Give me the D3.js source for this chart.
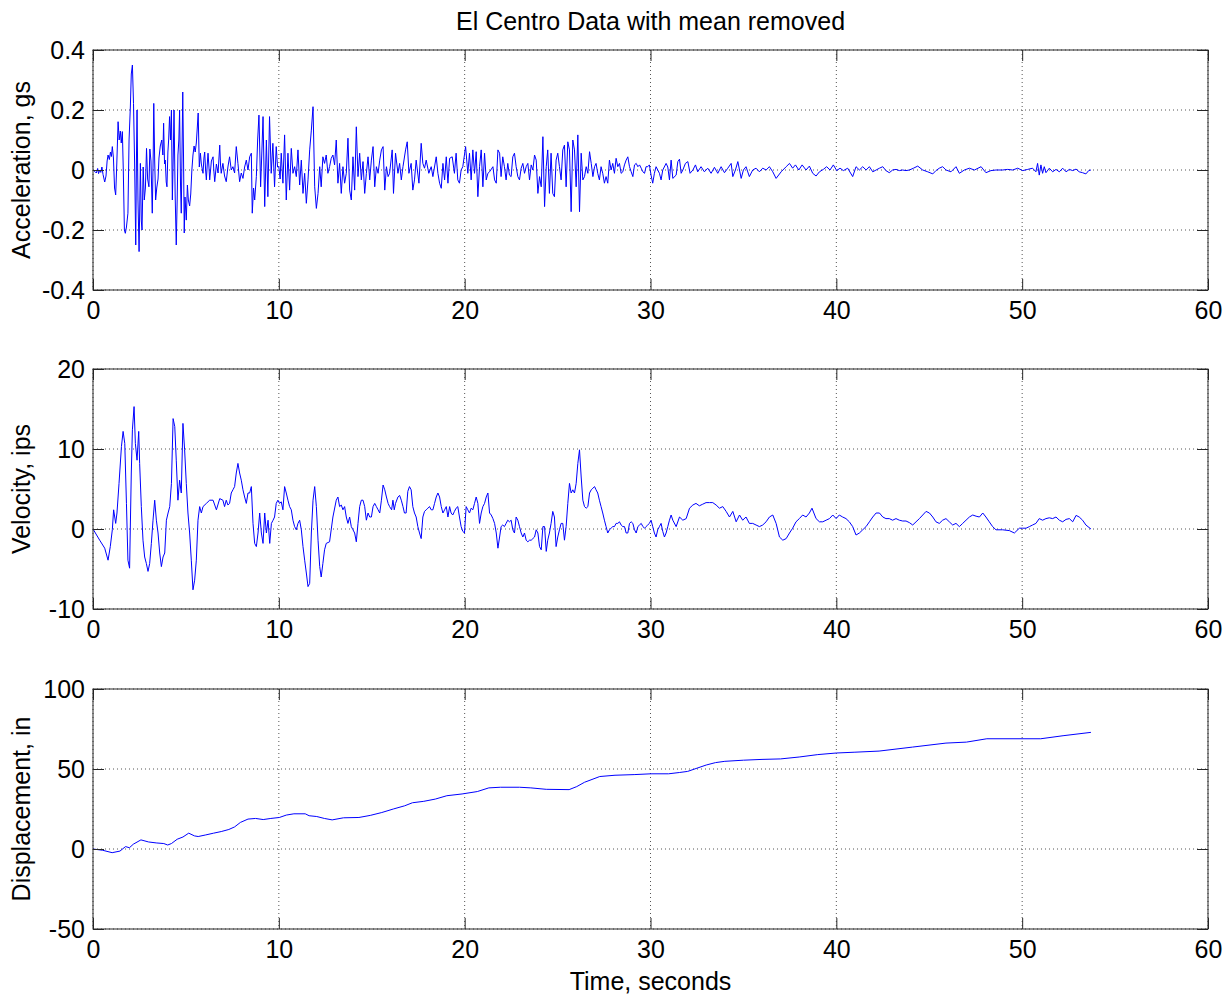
<!DOCTYPE html>
<html>
<head>
<meta charset="utf-8">
<script src="https://cdn.jsdelivr.net/npm/d3@7"></script>
<style>
  body { margin: 0; background: #fff; }
  text { font-family: "Liberation Sans", Arial, sans-serif; }
</style>
</head>
<body>
<svg id="chart" width="1229" height="996"></svg>
<script>
// ground acceleration, gs  [time s, value]
const accel = [
  [0.00,0.000],[0.10,-0.005],[0.18,-0.010],[0.25,0.005],[0.30,-0.012],[0.36,0.000],[0.42,-0.008],[0.48,0.010],[0.54,-0.015],[0.63,-0.040],
  [0.70,-0.020],[0.76,0.030],[0.81,0.050],[0.88,0.035],[0.94,0.060],[0.99,0.045],[1.04,0.078],[1.10,0.040],[1.16,-0.060],[1.22,-0.083],
  [1.28,0.020],[1.35,0.161],[1.41,0.100],[1.47,0.130],[1.52,0.090],[1.58,0.128],[1.63,0.000],[1.69,-0.200],[1.74,-0.211],[1.80,-0.190],
  [1.88,-0.144],[1.94,0.100],[2.01,0.210],[2.06,0.320],[2.12,0.350],[2.18,0.222],[2.24,0.020],[2.30,-0.250],[2.34,0.050],[2.37,0.200],
  [2.42,-0.100],[2.48,-0.272],[2.55,0.022],[2.60,-0.170],[2.64,-0.200],[2.70,0.010],[2.76,-0.100],[2.82,-0.060],[2.88,0.072],[2.94,-0.030],
  [3.01,-0.056],[3.06,0.070],[3.12,0.030],[3.19,-0.144],[3.24,0.050],[3.27,0.222],[3.32,0.030],[3.37,-0.100],[3.43,-0.060],[3.50,-0.030],
  [3.55,0.040],[3.62,0.080],[3.70,0.100],[3.76,0.050],[3.80,0.156],[3.85,0.020],[3.89,0.033],[3.94,-0.040],[3.98,-0.056],[4.03,0.060],
  [4.07,0.100],[4.12,0.178],[4.17,0.100],[4.22,0.200],[4.27,-0.100],[4.32,0.050],[4.36,0.200],[4.42,-0.080],[4.48,-0.250],[4.53,-0.100],
  [4.57,0.050],[4.62,0.100],[4.66,0.200],[4.71,-0.050],[4.75,-0.144],[4.83,0.260],[4.87,0.050],[4.91,-0.210],[4.95,-0.090],[5.02,-0.167],
  [5.08,-0.050],[5.13,-0.100],[5.20,-0.120],[5.26,-0.080],[5.32,0.000],[5.38,0.050],[5.44,0.080],[5.50,0.060],[5.56,0.090],[5.62,0.150],
  [5.66,0.190],[5.72,0.010],[5.78,0.056],[5.83,0.020],[5.92,-0.011],[5.97,0.040],[6.01,0.060],[6.06,0.000],[6.10,-0.033],[6.15,0.020],
  [6.19,0.056],[6.24,0.010],[6.28,-0.033],[6.37,0.030],[6.46,0.044],[6.50,0.000],[6.55,-0.039],[6.64,0.020],[6.73,-0.010],[6.82,0.083],
  [6.86,0.020],[6.90,-0.011],[6.99,0.022],[7.08,-0.020],[7.17,-0.039],[7.26,0.010],[7.35,0.044],[7.44,0.000],[7.53,0.011],[7.62,-0.010],
  [7.71,0.078],[7.80,0.022],[7.89,-0.039],[7.98,-0.010],[8.07,-0.028],[8.16,0.010],[8.25,0.033],[8.34,0.000],[8.43,0.044],[8.52,0.056],
  [8.57,-0.144],[8.64,-0.060],[8.70,-0.100],[8.79,-0.022],[8.86,0.100],[8.93,0.183],[9.02,-0.056],[9.08,0.050],[9.15,0.178],[9.24,-0.122],
  [9.33,0.100],[9.41,-0.089],[9.50,0.178],[9.59,-0.011],[9.68,0.089],[9.77,-0.056],[9.86,0.078],[9.93,0.010],[10.00,0.011],[10.07,-0.030],
  [10.13,0.056],[10.22,-0.044],[10.31,0.117],[10.40,-0.100],[10.49,0.056],[10.58,-0.067],[10.67,0.072],[10.76,-0.011],[10.85,0.011],[10.94,-0.022],
  [11.03,0.067],[11.12,-0.050],[11.21,0.033],[11.30,-0.078],[11.39,-0.011],[11.48,-0.111],[11.57,-0.033],[11.66,0.067],[11.75,0.133],[11.84,0.211],
  [11.93,-0.056],[12.02,-0.128],[12.11,-0.078],[12.20,0.011],[12.28,-0.056],[12.37,0.044],[12.46,0.022],[12.55,0.050],[12.64,-0.011],[12.73,0.011],
  [12.82,0.039],[12.91,0.050],[13.00,0.017],[13.09,0.100],[13.18,-0.044],[13.27,0.022],[13.36,-0.078],[13.45,0.011],[13.54,-0.044],[13.63,-0.011],
  [13.72,0.106],[13.81,-0.067],[13.90,-0.100],[13.99,0.044],[14.08,-0.067],[14.17,0.144],[14.26,-0.022],[14.35,0.056],[14.44,-0.033],[14.53,0.028],
  [14.62,-0.078],[14.71,-0.011],[14.80,0.044],[14.89,-0.033],[14.98,0.033],[15.07,0.078],[15.16,-0.056],[15.25,0.011],[15.34,-0.011],[15.43,0.033],
  [15.52,0.067],[15.61,0.078],[15.70,-0.067],[15.79,0.011],[15.88,-0.022],[15.96,-0.011],[16.10,0.067],[16.17,-0.078],[16.28,0.056],[16.41,-0.011],
  [16.50,0.022],[16.59,-0.033],[16.68,0.011],[16.82,0.067],[16.91,0.094],[17.00,-0.011],[17.12,0.022],[17.21,-0.067],[17.30,-0.033],[17.39,0.033],
  [17.54,-0.044],[17.66,0.089],[17.75,0.022],[17.84,0.006],[17.93,0.033],[18.07,-0.011],[18.20,0.011],[18.29,-0.022],[18.47,0.044],[18.56,-0.011],
  [18.65,-0.044],[18.74,-0.061],[18.83,0.022],[18.92,-0.033],[19.01,0.044],[19.10,-0.044],[19.19,0.039],[19.33,0.044],[19.45,-0.011],[19.54,0.056],
  [19.63,-0.033],[19.72,-0.044],[19.81,0.000],[19.90,0.011],[20.05,0.078],[20.17,-0.011],[20.26,0.056],[20.35,-0.033],[20.44,0.067],[20.53,-0.011],
  [20.62,0.061],[20.71,-0.089],[20.80,0.011],[20.89,0.067],[20.98,-0.056],[21.07,0.056],[21.16,-0.033],[21.25,-0.011],[21.34,-0.006],[21.52,0.011],
  [21.61,-0.033],[21.70,-0.044],[21.79,0.067],[21.88,0.056],[21.96,-0.022],[22.05,0.044],[22.14,0.011],[22.23,-0.033],[22.32,0.022],[22.41,-0.017],
  [22.50,-0.022],[22.59,0.044],[22.68,0.056],[22.77,0.011],[22.86,-0.022],[22.95,-0.033],[23.04,0.006],[23.13,0.022],[23.22,-0.011],[23.31,0.011],
  [23.40,0.022],[23.49,-0.033],[23.58,0.017],[23.67,0.000],[23.76,0.050],[23.85,0.033],[23.94,-0.078],[24.03,-0.022],[24.12,-0.056],[24.21,0.111],
  [24.30,-0.122],[24.39,0.011],[24.47,0.067],[24.56,-0.078],[24.65,0.056],[24.74,-0.078],[24.83,-0.089],[24.92,0.033],[25.01,0.056],[25.10,0.011],
  [25.19,-0.033],[25.28,0.067],[25.37,0.083],[25.46,-0.056],[25.55,0.094],[25.64,0.067],[25.73,-0.139],[25.82,0.100],[25.91,0.067],[26.00,-0.056],
  [26.09,0.117],[26.18,-0.139],[26.27,0.056],[26.36,-0.033],[26.45,-0.022],[26.54,0.011],[26.63,-0.011],[26.72,0.061],[26.81,0.022],[26.90,-0.022],
  [26.99,0.011],[27.07,0.022],[27.16,-0.011],[27.25,-0.033],[27.34,0.011],[27.43,-0.011],[27.52,-0.044],[27.61,-0.022],[27.70,-0.044],[27.79,0.033],
  [27.88,0.000],[27.97,0.022],[28.06,-0.011],[28.15,0.039],[28.24,0.011],[28.33,0.022],[28.42,-0.011],[28.51,-0.006],[28.60,0.017],[28.69,0.033],
  [28.78,0.044],[28.87,0.011],[28.96,-0.006],[29.05,-0.022],[29.14,0.017],[29.23,0.022],[29.32,0.011],[29.41,0.017],[29.50,0.006],[29.59,-0.006],
  [29.68,-0.011],[29.76,0.011],[29.85,0.011],[29.94,0.017],[30.03,-0.017],[30.12,-0.044],[30.21,-0.011],[30.30,0.011],[30.48,-0.011],[30.57,-0.033],
  [30.66,0.000],[30.84,0.022],[30.93,0.010],[31.02,-0.033],[31.11,0.033],[31.20,-0.028],[31.38,-0.017],[31.47,0.028],[31.56,0.036],[31.65,-0.011],
  [31.74,0.000],[31.88,0.022],[32.01,0.028],[32.13,-0.011],[32.28,0.000],[32.42,0.017],[32.54,-0.006],[32.72,0.011],[32.90,-0.006],[33.08,0.006],
  [33.26,-0.011],[33.44,0.009],[33.62,-0.011],[33.80,0.011],[33.98,-0.009],[34.16,0.006],[34.34,0.022],[34.43,-0.022],[34.57,0.000],[34.70,0.028],
  [34.88,-0.028],[35.00,0.000],[35.14,0.011],[35.32,-0.022],[35.50,0.000],[35.68,0.006],[35.86,-0.006],[36.04,0.006],[36.22,0.000],[36.40,0.011],
  [36.58,-0.006],[36.76,-0.028],[37.03,-0.006],[37.30,0.011],[37.48,0.022],[37.65,0.006],[37.80,0.017],[37.98,0.000],[38.16,0.017],[38.37,0.000],
  [38.55,0.013],[38.73,-0.011],[38.91,-0.020],[39.09,-0.006],[39.30,0.002],[39.48,0.011],[39.66,0.000],[39.84,0.017],[40.02,-0.002],[40.20,0.006],
  [40.38,-0.002],[40.61,0.006],[40.88,-0.022],[41.06,0.011],[41.24,0.000],[41.42,0.011],[41.60,0.000],[41.78,0.011],[41.96,-0.006],[42.14,0.000],
  [42.32,0.006],[42.50,0.011],[42.67,-0.002],[42.85,-0.009],[43.03,0.000],[43.21,0.002],[43.39,-0.002],[43.57,0.000],[43.75,-0.002],[43.93,0.000],
  [44.15,0.006],[44.38,0.013],[44.65,0.000],[44.92,-0.006],[45.19,-0.013],[45.36,-0.002],[45.54,0.006],[45.72,0.011],[45.90,0.000],[46.17,-0.006],
  [46.44,0.011],[46.62,-0.011],[46.89,0.000],[47.16,0.006],[47.43,0.000],[47.79,0.011],[48.05,-0.009],[48.32,-0.002],[48.59,0.000],[48.95,0.000],
  [49.22,0.002],[49.49,0.000],[49.76,0.006],[50.03,-0.002],[50.30,0.002],[50.56,0.006],[50.74,-0.006],[50.83,0.022],[50.92,-0.017],[51.01,0.017],
  [51.10,-0.011],[51.19,0.011],[51.28,-0.009],[51.46,0.006],[51.64,-0.006],[51.82,0.002],[52.00,-0.006],[52.18,0.006],[52.36,-0.006],[52.54,0.002],
  [52.72,-0.002],[52.90,0.003],[53.07,-0.006],[53.25,-0.009],[53.43,-0.013],[53.58,-0.002],[53.70,0.000]
];

// ground velocity, ips  [time s, value]
const velocity = [
  [0.00,0.0],[0.36,-1.4],[0.63,-2.4],[0.81,-3.9],[0.93,-2.2],[1.04,-0.1],[1.11,2.4],[1.22,0.7],[1.29,2.0],[1.40,5.7],
  [1.53,10.3],[1.62,12.2],[1.71,10.7],[1.80,3.2],[1.88,-3.9],[1.97,-4.9],[2.06,7.0],[2.12,12.4],[2.21,15.3],[2.28,10.7],
  [2.37,8.6],[2.46,12.2],[2.51,8.2],[2.60,2.8],[2.69,-1.4],[2.78,-3.5],[2.87,-4.3],[2.96,-5.3],[3.05,-4.3],[3.14,-1.8],
  [3.23,1.1],[3.32,3.6],[3.41,1.1],[3.50,-0.5],[3.59,-3.0],[3.68,-4.7],[3.77,-3.5],[3.86,-3.0],[3.95,1.1],[4.04,2.0],
  [4.13,2.8],[4.22,5.7],[4.31,13.8],[4.40,12.8],[4.48,8.6],[4.57,3.6],[4.66,6.1],[4.75,4.5],[4.84,13.2],[4.93,9.9],
  [5.02,5.7],[5.11,2.0],[5.20,-0.5],[5.29,-3.9],[5.38,-7.6],[5.47,-6.4],[5.56,-3.9],[5.65,1.1],[5.74,2.8],[5.83,2.0],
  [5.92,2.8],[6.10,3.2],[6.28,3.6],[6.46,3.6],[6.64,2.4],[6.82,3.8],[6.99,3.6],[7.08,2.8],[7.17,3.6],[7.26,3.0],
  [7.35,3.2],[7.44,4.5],[7.53,4.9],[7.62,5.3],[7.71,7.0],[7.80,8.2],[7.89,7.0],[7.98,6.1],[8.07,4.9],[8.16,4.0],
  [8.25,3.2],[8.34,4.5],[8.43,4.5],[8.52,5.3],[8.61,0.7],[8.70,-1.8],[8.79,-2.2],[8.88,-0.5],[8.97,2.0],[9.06,-0.5],
  [9.15,-1.8],[9.24,2.0],[9.33,-0.5],[9.42,1.1],[9.51,-1.8],[9.60,0.7],[9.69,1.1],[9.77,1.5],[9.86,3.2],[9.95,3.6],
  [10.04,3.2],[10.13,3.4],[10.22,2.4],[10.31,5.3],[10.40,4.5],[10.49,3.6],[10.58,2.8],[10.67,2.4],[10.76,1.1],[10.85,0.3],
  [10.94,-0.1],[11.03,0.7],[11.12,1.1],[11.21,-0.1],[11.30,-2.2],[11.39,-3.9],[11.48,-5.5],[11.57,-7.2],[11.66,-6.8],[11.75,-0.5],
  [11.84,3.6],[11.93,5.3],[12.02,2.8],[12.11,-1.4],[12.20,-4.7],[12.28,-6.0],[12.37,-4.3],[12.46,-2.6],[12.55,-1.8],[12.73,-1.6],
  [12.91,1.5],[13.09,3.6],[13.18,4.0],[13.27,2.8],[13.36,3.0],[13.45,2.4],[13.54,2.8],[13.63,1.5],[13.72,0.7],[13.81,1.5],
  [13.90,0.3],[13.99,-0.1],[14.08,-0.5],[14.17,-1.6],[14.26,0.7],[14.35,2.8],[14.44,3.6],[14.53,3.6],[14.62,2.8],[14.71,1.1],
  [14.80,2.0],[14.89,1.5],[14.98,1.5],[15.07,2.8],[15.16,3.2],[15.25,2.8],[15.34,2.4],[15.43,2.0],[15.52,3.6],[15.61,5.5],
  [15.70,4.9],[15.79,4.0],[15.88,3.2],[15.96,2.8],[16.07,2.4],[16.14,3.6],[16.21,2.4],[16.28,3.2],[16.41,4.0],[16.50,4.2],
  [16.59,3.6],[16.68,2.8],[16.76,2.0],[16.85,2.0],[16.94,4.7],[17.03,5.3],[17.12,4.9],[17.21,2.8],[17.30,2.0],[17.39,1.5],
  [17.48,0.3],[17.57,-0.5],[17.66,-1.2],[17.75,1.5],[17.84,2.2],[17.93,2.4],[18.02,2.6],[18.11,2.8],[18.20,2.4],[18.29,2.4],
  [18.38,3.2],[18.47,4.0],[18.56,4.5],[18.65,4.0],[18.74,2.8],[18.83,2.0],[18.92,2.4],[19.01,2.8],[19.10,1.5],[19.19,2.8],
  [19.27,2.0],[19.36,1.75],[19.45,2.2],[19.54,2.6],[19.63,2.8],[19.72,1.5],[19.81,0.3],[19.90,-0.3],[19.99,-0.5],[20.08,2.8],
  [20.17,2.4],[20.26,2.0],[20.35,2.6],[20.44,2.4],[20.53,3.2],[20.62,4.0],[20.71,3.2],[20.80,0.7],[20.89,2.0],[20.98,2.8],
  [21.07,3.2],[21.16,4.0],[21.25,4.5],[21.34,2.0],[21.43,1.75],[21.52,1.3],[21.61,0.7],[21.70,-0.5],[21.79,-2.4],[21.88,-1.0],
  [21.96,0.3],[22.05,0.5],[22.14,0.3],[22.23,0.7],[22.32,1.1],[22.41,0.9],[22.50,1.1],[22.59,-0.1],[22.68,-0.5],[22.77,1.5],
  [22.86,1.1],[22.95,0.3],[23.04,-0.5],[23.13,-1.0],[23.22,-0.5],[23.31,-1.4],[23.40,-1.6],[23.49,-1.4],[23.58,-1.4],[23.67,-1.2],
  [23.76,-1.0],[23.85,-0.1],[23.94,-0.5],[24.03,-2.2],[24.12,-2.6],[24.21,0.3],[24.30,0.3],[24.39,-2.8],[24.47,-1.4],[24.56,-0.5],
  [24.65,0.7],[24.74,2.2],[24.83,1.5],[24.92,-2.2],[25.01,-1.0],[25.10,-0.1],[25.19,0.7],[25.28,0.7],[25.37,-1.4],[25.46,0.3],
  [25.55,3.2],[25.64,5.7],[25.73,4.5],[25.82,4.9],[25.91,4.5],[26.00,5.7],[26.09,8.2],[26.18,9.9],[26.27,6.5],[26.36,3.6],
  [26.45,2.8],[26.54,2.6],[26.63,2.8],[26.72,4.5],[26.81,4.9],[26.90,5.1],[26.99,5.3],[27.07,4.9],[27.16,4.5],[27.25,3.6],
  [27.34,2.8],[27.43,2.0],[27.52,1.1],[27.61,0.3],[27.70,-0.5],[27.79,-0.1],[27.88,0.1],[27.97,0.3],[28.06,0.3],[28.15,0.7],
  [28.24,0.7],[28.33,0.9],[28.42,0.5],[28.51,0.3],[28.60,0.3],[28.69,-0.5],[28.78,-0.5],[28.87,0.7],[28.96,0.9],[29.05,0.7],
  [29.14,-0.1],[29.23,-0.5],[29.32,0.3],[29.41,0.5],[29.50,0.7],[29.59,0.3],[29.68,0.1],[29.76,0.3],[29.85,0.5],[29.94,0.7],
  [30.03,1.1],[30.12,0.3],[30.21,-0.5],[30.30,-1.0],[30.39,-0.1],[30.48,0.3],[30.57,0.7],[30.66,-0.3],[30.75,-1.0],[30.84,-0.5],
  [30.93,0.3],[31.02,1.1],[31.11,1.75],[31.20,1.1],[31.38,0.3],[31.56,1.5],[31.74,1.1],[31.92,1.3],[32.10,2.6],[32.28,3.0],
  [32.45,3.2],[32.63,2.9],[32.81,3.1],[32.99,3.3],[33.17,3.3],[33.35,3.3],[33.53,3.0],[33.71,2.6],[33.89,2.8],[34.07,2.2],
  [34.25,1.5],[34.43,2.2],[34.61,0.9],[34.79,1.75],[34.96,1.1],[35.14,1.5],[35.32,0.7],[35.50,0.7],[35.68,0.5],[35.86,0.3],
  [36.04,0.5],[36.22,0.9],[36.40,1.5],[36.58,1.75],[36.76,0.7],[36.94,-1.0],[37.12,-1.4],[37.30,-1.2],[37.48,-0.5],[37.65,0.1],
  [37.83,0.9],[38.01,1.3],[38.19,1.75],[38.37,1.5],[38.55,2.0],[38.69,2.6],[38.91,1.3],[39.09,0.9],[39.27,0.9],[39.45,1.1],
  [39.63,1.3],[39.81,1.75],[39.99,1.3],[40.16,1.75],[40.34,1.5],[40.52,1.3],[40.70,0.9],[40.88,0.3],[41.06,-0.75],[41.24,-0.5],
  [41.42,-0.1],[41.60,0.3],[41.78,0.9],[41.96,1.5],[42.14,2.0],[42.32,2.0],[42.50,1.5],[42.67,1.3],[42.85,1.3],[43.03,1.1],
  [43.21,1.3],[43.39,1.1],[43.57,1.0],[43.75,1.0],[43.93,0.8],[44.11,0.5],[44.29,0.9],[44.47,1.3],[44.65,1.75],[44.83,2.2],
  [45.01,2.0],[45.19,1.5],[45.36,0.9],[45.54,0.7],[45.72,1.1],[45.90,1.3],[46.08,0.9],[46.26,0.5],[46.44,0.7],[46.62,0.3],
  [46.80,0.7],[46.98,1.1],[47.16,1.5],[47.34,1.75],[47.52,1.6],[47.70,1.5],[47.88,2.0],[48.05,1.5],[48.23,0.9],[48.41,0.3],
  [48.59,-0.1],[48.95,-0.1],[49.31,-0.2],[49.58,-0.5],[49.85,0.1],[50.03,0.1],[50.21,0.1],[50.39,0.3],[50.56,0.5],[50.74,0.7],
  [50.92,1.3],[51.10,1.1],[51.28,1.3],[51.46,1.4],[51.64,1.3],[51.82,1.5],[52.00,1.1],[52.18,0.9],[52.36,1.2],[52.54,1.3],
  [52.72,0.9],[52.90,1.7],[53.07,1.5],[53.25,1.1],[53.43,0.5],[53.70,0.0]
];

// ground displacement, in  [time s, value]
const displacement = [
  [0.00,0.0],[0.52,-0.8],[1.03,-2.3],[1.45,-1.3],[1.75,1.5],[1.96,0.8],[2.17,3.0],[2.58,5.7],[2.99,4.4],[3.40,3.8],
  [3.81,3.4],[4.02,2.5],[4.22,3.4],[4.53,6.1],[4.84,7.5],[5.15,9.9],[5.46,8.2],[5.66,7.8],[6.07,8.8],[6.49,9.9],
  [6.90,10.9],[7.31,12.2],[7.62,13.8],[7.93,16.6],[8.34,18.7],[8.75,19.1],[9.16,18.4],[9.57,19.1],[10.03,19.7],[10.40,21.2],
  [10.81,22.0],[11.42,22.0],[11.63,20.8],[12.04,20.3],[12.45,19.1],[12.87,18.2],[13.48,19.5],[14.31,19.7],[14.92,21.0],[15.54,22.8],
  [16.16,25.0],[16.77,27.0],[17.19,28.9],[17.80,29.8],[18.42,31.2],[19.04,33.3],[19.86,34.4],[20.68,35.9],[21.30,38.2],[21.92,38.6],
  [22.95,38.6],[23.56,38.2],[24.39,37.3],[25.62,37.1],[26.03,39.0],[26.45,41.7],[27.27,45.3],[28.09,46.1],[29.12,46.5],[30.03,47.0],
  [30.97,47.0],[31.55,47.8],[32.00,48.5],[32.50,50.5],[33.00,52.5],[33.50,54.0],[34.00,54.8],[35.00,55.5],[36.00,56.0],[37.00,56.3],
  [38.00,57.5],[39.00,59.0],[40.00,60.0],[41.00,60.5],[42.30,61.2],[44.10,63.7],[45.90,66.2],[47.00,66.8],[48.10,68.9],[50.10,68.9],
  [51.00,68.9],[52.20,70.8],[53.70,72.9]
];

const timeTicks = [0, 10, 20, 30, 40, 50, 60];
const accelTicks = [-0.4, -0.2, 0, 0.2, 0.4];
const velocityTicks = [-10, 0, 10, 20];
const displacementTicks = [-50, 0, 50, 100];

const svg = d3.select("#chart");
const left = 93, right = 1208, plotH = 240;
const ink = "#262626";
const x = d3.scaleLinear().domain([0, 60]).range([left, right]);

function styleAxis(g) {
  g.select(".domain").remove();
  g.selectAll(".tick line").attr("stroke", ink);
  g.selectAll(".tick text")
    .attr("fill", "#000")
    .attr("font-size", 25)
    .attr("font-family", '"Liberation Sans", Arial, sans-serif');
}

function drawPanel(top, series, yTicks, yLabel) {
  const y = d3.scaleLinear()
    .domain([yTicks[0], yTicks[yTicks.length - 1]])
    .range([top + plotH, top]);
  const g = svg.append("g");

  // dotted grid
  g.selectAll(".vgrid").data(timeTicks).join("line")
    .attr("x1", x).attr("x2", x)
    .attr("y1", top).attr("y2", top + plotH)
    .attr("stroke", "#555").attr("stroke-dasharray", "1,3");
  g.selectAll(".hgrid").data(yTicks).join("line")
    .attr("x1", left).attr("x2", right)
    .attr("y1", y).attr("y2", y)
    .attr("stroke", "#555").attr("stroke-dasharray", "1,3");

  // data trace
  g.append("path")
    .datum(series)
    .attr("fill", "none")
    .attr("stroke", "#0000ff")
    .attr("stroke-width", 1)
    .attr("stroke-linejoin", "round")
    .attr("d", d3.line().x((d) => x(d[0])).y((d) => y(d[1])));

  // inward ticks on all four sides
  g.append("g").attr("transform", `translate(0,${top + plotH})`)
    .call(d3.axisBottom(x).tickValues(timeTicks).tickSize(-11).tickPadding(11).tickFormat((d) => String(d)))
    .call(styleAxis);
  g.append("g").attr("transform", `translate(0,${top})`)
    .call(d3.axisTop(x).tickValues(timeTicks).tickSize(-11).tickFormat(""))
    .call(styleAxis);
  g.append("g").attr("transform", `translate(${left},0)`)
    .call(d3.axisLeft(y).tickValues(yTicks).tickSize(-11).tickPadding(8).tickFormat((d) => String(d)))
    .call(styleAxis);
  g.append("g").attr("transform", `translate(${right},0)`)
    .call(d3.axisRight(y).tickValues(yTicks).tickSize(-11).tickFormat(""))
    .call(styleAxis);

  // frame
  g.append("rect")
    .attr("x", left).attr("y", top)
    .attr("width", right - left).attr("height", plotH)
    .attr("fill", "none").attr("stroke", ink);

  // y axis label
  g.append("text")
    .attr("transform", `translate(30,${top + plotH / 2}) rotate(-90)`)
    .attr("text-anchor", "middle")
    .attr("font-size", 25)
    .text(yLabel);
}

drawPanel(50, accel, accelTicks, "Acceleration, gs");
drawPanel(369, velocity, velocityTicks, "Velocity, ips");
drawPanel(689, displacement, displacementTicks, "Displacement, in");

// title
svg.append("text")
  .attr("x", (left + right) / 2).attr("y", 30)
  .attr("text-anchor", "middle")
  .attr("font-size", 25)
  .text("El Centro Data with mean removed");

// x axis label
svg.append("text")
  .attr("x", (left + right) / 2).attr("y", 990)
  .attr("text-anchor", "middle")
  .attr("font-size", 25)
  .text("Time, seconds");
</script>
</body>
</html>
